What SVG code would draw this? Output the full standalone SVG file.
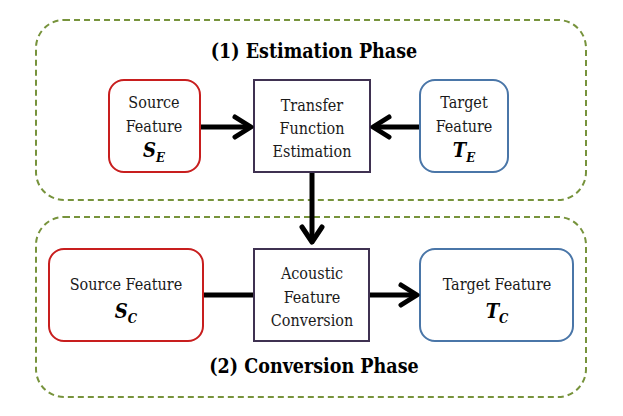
<svg xmlns="http://www.w3.org/2000/svg" width="623" height="416" viewBox="0 0 623 416">
<style>
.phase{fill:none;stroke:#77933c;stroke-width:2;stroke-dasharray:6 4}
.src{fill:#fff;stroke:#c81e1e;stroke-width:2}
.tgt{fill:#fff;stroke:#4a76a8;stroke-width:2}
.proc{fill:#fff;stroke:#3f3151;stroke-width:2}
text{font-family:'DejaVu Serif Condensed','DejaVu Serif',serif;font-stretch:condensed;fill:#1a1a1a;text-anchor:middle}
.t{font-size:16px}
.title{font-size:19.5px;font-weight:bold;fill:#000}
.sym{font-size:20px;font-weight:bold;font-style:italic;fill:#000}
.sub{font-size:13px}
.line{fill:none;stroke:#000;stroke-width:5}
.head{fill:none;stroke:#000;stroke-width:5;stroke-linecap:round;stroke-linejoin:round}
</style>
<g id="phase1">
<rect class="phase" x="36" y="20" width="550" height="180" rx="28"/>
<text class="title" x="314" y="58">(1) Estimation Phase</text>
</g>
<g id="phase2">
<rect class="phase" x="36" y="217" width="550" height="180" rx="28"/>
<text class="title" x="314" y="373">(2) Conversion Phase</text>
</g>
<g id="source-e">
<rect class="src" x="109" y="80" width="91" height="92" rx="15"/>
<text class="t" x="154" y="108">Source</text>
<text class="t" x="154" y="132">Feature</text>
<text class="sym" x="154" y="157">S<tspan class="sub" dy="5">E</tspan></text>
</g>
<g id="transfer">
<rect class="proc" x="254" y="80" width="116" height="92"/>
<text class="t" x="312" y="111">Transfer</text>
<text class="t" x="312" y="134">Function</text>
<text class="t" x="312" y="157">Estimation</text>
</g>
<g id="target-e">
<rect class="tgt" x="420" y="80" width="88" height="92" rx="15"/>
<text class="t" x="464" y="108">Target</text>
<text class="t" x="464" y="132">Feature</text>
<text class="sym" x="464" y="157">T<tspan class="sub" dy="5">E</tspan></text>
</g>
<g id="source-c">
<rect class="src" x="49" y="249" width="154" height="92" rx="15"/>
<text class="t" x="126" y="290">Source Feature</text>
<text class="sym" x="126" y="318">S<tspan class="sub" dy="5">C</tspan></text>
</g>
<g id="acoustic">
<rect class="proc" x="254" y="249" width="115" height="92"/>
<text class="t" x="312" y="279">Acoustic</text>
<text class="t" x="312" y="303">Feature</text>
<text class="t" x="312" y="326">Conversion</text>
</g>
<g id="target-c">
<rect class="tgt" x="420" y="249" width="153" height="92" rx="15"/>
<text class="t" x="497" y="290">Target Feature</text>
<text class="sym" x="497" y="318">T<tspan class="sub" dy="5">C</tspan></text>
</g>
<g id="connectors">
<line class="line" x1="201" y1="127" x2="250" y2="127"/>
<polyline class="head" points="235,117 251,127 235,137"/>
<line class="line" x1="419" y1="127" x2="374" y2="127"/>
<polyline class="head" points="389,117 373,127 389,137"/>
<line class="line" x1="312" y1="173" x2="312" y2="241"/>
<polyline class="head" points="302,227 312,242 322,227"/>
<line class="line" x1="204" y1="295" x2="253" y2="295"/>
<line class="line" x1="370" y1="295" x2="416" y2="295"/>
<polyline class="head" points="401,285 417,295 401,305"/>
</g>
</svg>
